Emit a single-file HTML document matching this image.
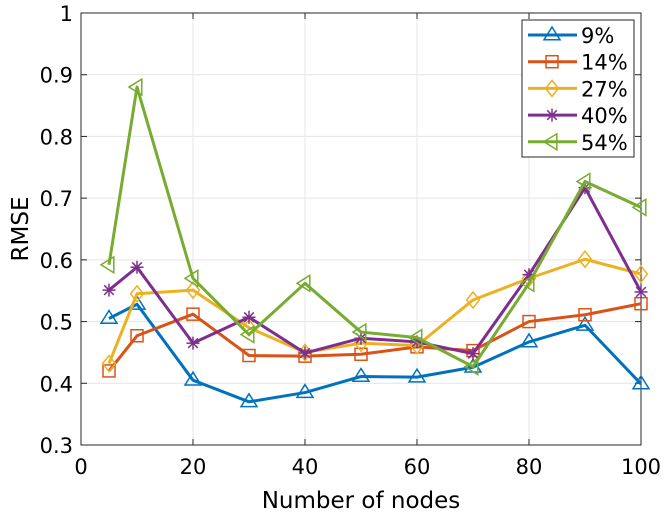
<!DOCTYPE html>
<html><head><meta charset="utf-8"><style>body{margin:0;background:#fff}svg{display:block;font-family:"DejaVu Sans","Liberation Sans",sans-serif}</style></head>
<body>
<svg id="chart" width="666" height="513"></svg>
<script>
const xVals=[5,10,20,30,40,50,60,70,80,90,100];
const s9=[0.505,0.528,0.405,0.370,0.385,0.411,0.410,0.426,0.467,0.494,0.399];
const s14=[0.420,0.477,0.512,0.445,0.444,0.447,0.459,0.453,0.500,0.511,0.529];
const s27=[0.432,0.545,0.551,0.490,0.450,0.465,0.461,0.535,0.570,0.601,0.577];
const s40=[0.551,0.588,0.465,0.507,0.449,0.473,0.467,0.448,0.576,0.717,0.548];
const s54=[0.592,0.880,0.570,0.479,0.562,0.483,0.474,0.427,0.562,0.727,0.685];
const seriesNames=["9%","14%","27%","40%","54%"];
const xTicks=[0,20,40,60,80,100];
const yTicks=[0.3,0.4,0.5,0.6,0.7,0.8,0.9,1];
const yTickLabels=["0.3","0.4","0.5","0.6","0.7","0.8","0.9","1"];

const NS="http://www.w3.org/2000/svg";
const svg=document.getElementById('chart');
const L=81,R=641,T=13,B=445;
const xs=v=>L+(v-0)/100*(R-L);
const ys=v=>B-(v-0.3)/0.7*(B-T);
function mk(tag,attrs,parent){const e=document.createElementNS(NS,tag);for(const k in attrs)e.setAttribute(k,attrs[k]);(parent||svg).appendChild(e);return e;}

mk('rect',{x:L,y:T,width:R-L,height:B-T,fill:'#fff'});
const grid=mk('g',{});


xTicks.forEach(t=>{mk('line',{x1:xs(t),x2:xs(t),y1:T,y2:B,stroke:'#e4e4e4','stroke-width':1},grid);});
yTicks.forEach(t=>{mk('line',{x1:L,x2:R,y1:ys(t),y2:ys(t),stroke:'#e4e4e4','stroke-width':1},grid);});
const frame=mk('rect',{x:L,y:T,width:R-L,height:B-T,fill:'none',stroke:'#262626','stroke-width':1});


xTicks.forEach(t=>{
  mk('line',{x1:xs(t),x2:xs(t),y1:B,y2:B-6,stroke:'#262626'});
  mk('line',{x1:xs(t),x2:xs(t),y1:T,y2:T+6,stroke:'#262626'});
  const tx=mk('text',{x:xs(t),y:B+29,'text-anchor':'middle','font-size':21,fill:'#000'});
  tx.textContent=t;
  
  
});
yTicks.forEach((t,i)=>{
  mk('line',{x1:L,x2:L+6,y1:ys(t),y2:ys(t),stroke:'#262626'});
  mk('line',{x1:R,x2:R-6,y1:ys(t),y2:ys(t),stroke:'#262626'});
  const tx=mk('text',{x:L-8,y:ys(t)+8,'text-anchor':'end','font-size':21,fill:'#000'});
  tx.textContent=yTickLabels[i];
  
  
});
const xt=mk('text',{x:(L+R)/2,y:508,'text-anchor':'middle','font-size':23,fill:'#000'});
xt.textContent='Number of nodes';


const yt=mk('text',{x:20,y:(T+B)/2,'text-anchor':'middle','font-size':23,fill:'#000',transform:`rotate(-90 20 ${(T+B)/2})`});
yt.setAttribute('dy','8');
yt.textContent='RMSE';



const colors=['#0072BD','#D95319','#EDB120','#7E2F8E','#77AC30'];
const markers=['tri','sq','dia','star','left'];
function marker(type,cx,cy,c,g){
  const r=8;
  if(type==='tri')return mk('polygon',{points:`${cx},${cy-r} ${cx-r},${cy+r*0.6} ${cx+r},${cy+r*0.6}`,fill:'none',stroke:c,'stroke-width':1.5},g);
  if(type==='sq')return mk('rect',{x:cx-6,y:cy-6,width:12,height:12,fill:'none',stroke:c,'stroke-width':1.5},g);
  if(type==='dia')return mk('polygon',{points:`${cx},${cy-r} ${cx+r*0.8},${cy} ${cx},${cy+r} ${cx-r*0.8},${cy}`,fill:'none',stroke:c,'stroke-width':1.5},g);
  if(type==='left')return mk('polygon',{points:`${cx-r},${cy} ${cx+r*0.6},${cy-r} ${cx+r*0.6},${cy+r}`,fill:'none',stroke:c,'stroke-width':1.5},g);
  const gg=mk('g',{stroke:c,'stroke-width':1.5},g);
  [[0,-6.5,0,6.5],[-6.5,0,6.5,0],[-4.8,-4.8,4.8,4.8],[-4.8,4.8,4.8,-4.8]].forEach(a=>mk('line',{x1:cx+a[0],y1:cy+a[1],x2:cx+a[2],y2:cy+a[3]},gg));
  return gg;
}
const allSeries=[s9,s14,s27,s40,s54];
allSeries.forEach((s,i)=>{
  const g=mk('g',{});
  
  
  const pl=mk('polyline',{points:s.map((v,j)=>xs(xVals[j])+','+ys(v)).join(' '),fill:'none',stroke:colors[i],'stroke-width':3,'stroke-linejoin':'round'},g);
  
  
  s.forEach((v,j)=>{
    const m=marker(markers[i],xs(xVals[j]),ys(v),colors[i],g);
    
    
  });
});
const lg=mk('g',{});


mk('rect',{x:522,y:20,width:112,height:137,fill:'#fff',stroke:'#262626','stroke-width':1},lg);
seriesNames.forEach((n,i)=>{
  const y=35+i*26.7;
  const e=mk('g',{},lg);
  
  
  mk('line',{x1:528,x2:577,y1:y,y2:y,stroke:colors[i],'stroke-width':3},e);
  marker(markers[i],552,y,colors[i],e);
  const t=mk('text',{x:581,y:y+8,'font-size':21,fill:'#000'},e);
  t.textContent=n;
});
</script>
</body></html>
